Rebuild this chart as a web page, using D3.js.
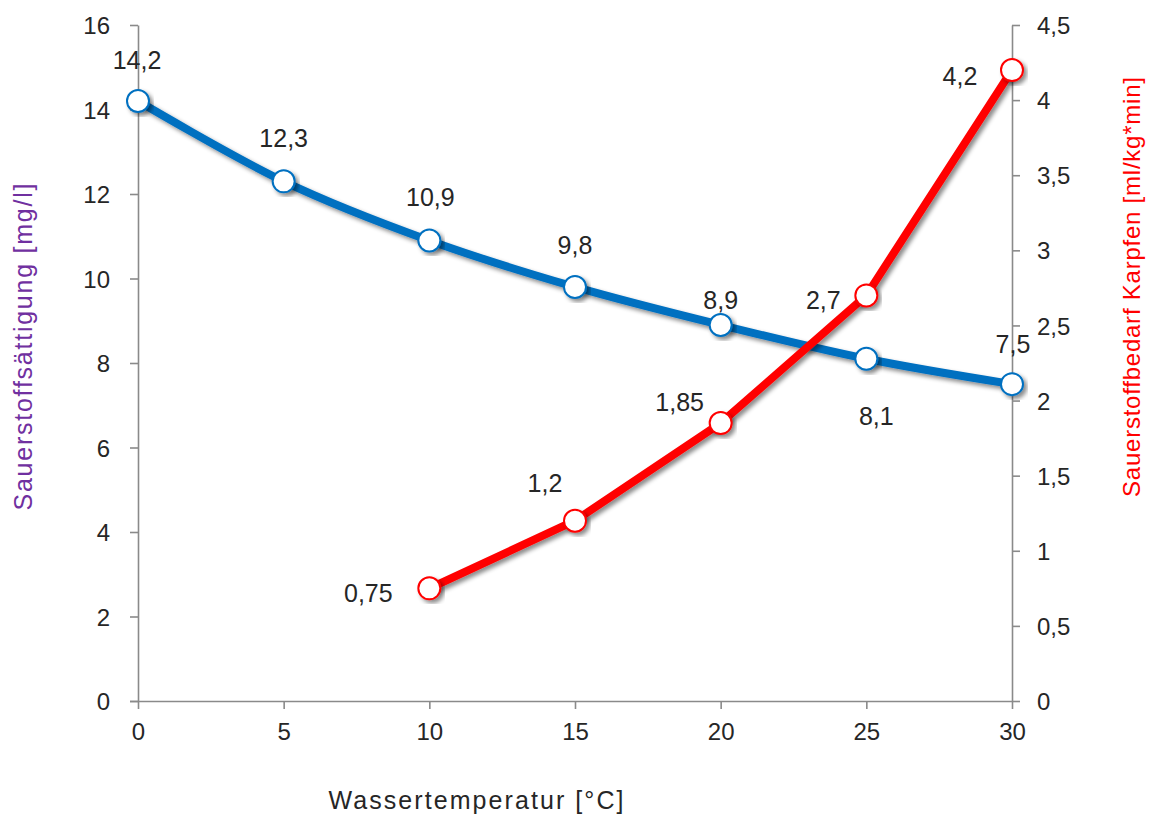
<!DOCTYPE html>
<html><head><meta charset="utf-8">
<script src="https://cdn.jsdelivr.net/npm/d3@7"></script>
<style>body{margin:0;background:#fff}svg{display:block}text{font-family:"Liberation Sans",Arial,sans-serif}</style>
</head><body><div id="chart"></div>
<script>
const temps = [0, 5, 10, 15, 20, 25, 30];
const saturation = [14.2, 12.3, 10.9, 9.8, 8.9, 8.1, 7.5];
const demandTemps = [10, 15, 20, 25, 30];
const demand = [0.75, 1.2, 1.85, 2.7, 4.2];
const satLabels = ["14,2", "12,3", "10,9", "9,8", "8,9", "8,1", "7,5"];
const demandLabels = ["0,75", "1,2", "1,85", "2,7", "4,2"];
const leftTicks = [0, 2, 4, 6, 8, 10, 12, 14, 16];
const rightTicks = [0, 0.5, 1, 1.5, 2, 2.5, 3, 3.5, 4, 4.5];
const xTicks = [0, 5, 10, 15, 20, 25, 30];
const xTitle = "Wassertemperatur  [°C]";
const leftTitle = "Sauerstoffsättigung  [mg/l]";
const rightTitle = "Sauerstoffbedarf  Karpfen  [ml/kg*min]";

// label placement offsets (px) relative to markers
const satOff = [[-1,-41],[0,-43],[1,-43],[0,-42],[0,-25],[10,57],[1,-40]];
const demOff = [[-61,5],[-30,-38],[-41,-21],[-43,5],[-52,6]];

const W = 1149, H = 816;
const svg = d3.select("#chart").append("svg").attr("width", W).attr("height", H);
const x = d3.scaleLinear().domain([0, 30]).range([138, 1012]);
const yL = d3.scaleLinear().domain([0, 16]).range([701, 25]);
const yR = d3.scaleLinear().domain([0, 4.5]).range([701, 25]);
const fmt = v => String(v).replace(".", ",");

const defs = svg.append("defs");
const f = defs.append("filter").attr("id", "sh").attr("x", "-20%").attr("y", "-20%").attr("width", "140%").attr("height", "140%");
f.append("feDropShadow").attr("dx", 3).attr("dy", 3).attr("stdDeviation", 2.2).attr("flood-color", "#000").attr("flood-opacity", 0.45);

const axisColor = "#8a8a8a";
function styleAxis(g) {
  g.select(".domain").attr("stroke", axisColor).attr("stroke-width", 1.6);
  g.selectAll(".tick line").attr("stroke", axisColor).attr("stroke-width", 1.6);
  g.selectAll(".tick text").attr("fill", "#262626").style("font-size", "24px").style("font-family", '"Liberation Sans",Arial,sans-serif');
}
const gx = svg.append("g").attr("transform", "translate(0,701)")
  .call(d3.axisBottom(x).tickValues(xTicks).tickSize(8).tickSizeOuter(0).tickPadding(14).tickFormat(fmt));
styleAxis(gx);
gx.select(".domain").attr("d", "M130,0.5H1012");
const gl = svg.append("g").attr("transform", "translate(138,0)")
  .call(d3.axisLeft(yL).tickValues(leftTicks).tickSize(8).tickSizeOuter(0).tickPadding(20).tickFormat(fmt));
styleAxis(gl);
gl.selectAll(".tick text").attr("dy", "0.36em");
const gr = svg.append("g").attr("transform", "translate(1012,0)")
  .call(d3.axisRight(yR).tickValues(rightTicks).tickSize(8).tickSizeOuter(0).tickPadding(17).tickFormat(fmt));
styleAxis(gr);
gr.selectAll(".tick text").attr("dy", "0.36em");

// titles
svg.append("text").attr("x", 476).attr("y", 809).attr("text-anchor", "middle")
  .attr("fill", "#262626").style("font-size", "25px").attr("textLength", 295).attr("lengthAdjust", "spacing").text(xTitle);
svg.append("text").attr("transform", "translate(32,347) rotate(-90)").attr("text-anchor", "middle")
  .attr("fill", "#7030A0").style("font-size", "25px").attr("textLength", 327).attr("lengthAdjust", "spacing").text(leftTitle);
svg.append("text").attr("transform", "translate(1140,287) rotate(-90)").attr("text-anchor", "middle")
  .attr("fill", "#FF0000").style("font-size", "24px").attr("textLength", 420).attr("lengthAdjust", "spacing").text(rightTitle);

// series
const blue = "#0070C0", red = "#FF0000";
const satData = temps.map((t, i) => ({t, v: saturation[i], lab: satLabels[i], off: satOff[i]}));
const demData = demandTemps.map((t, i) => ({t, v: demand[i], lab: demandLabels[i], off: demOff[i]}));

svg.append("path").datum(satData).attr("fill", "none").attr("stroke", blue).attr("stroke-width", 8)
  .attr("filter", "url(#sh)")
  .attr("d", d3.line().x(d => x(d.t)).y(d => yL(d.v)).curve(d3.curveCatmullRom.alpha(0.5)));
svg.append("path").datum(demData).attr("fill", "none").attr("stroke", red).attr("stroke-width", 8)
  .attr("stroke-linejoin", "round").attr("filter", "url(#sh)")
  .attr("d", d3.line().x(d => x(d.t)).y(d => yR(d.v)));

svg.append("g").selectAll("circle").data(satData).join("circle")
  .attr("cx", d => x(d.t)).attr("cy", d => yL(d.v)).attr("r", 11)
  .attr("fill", "#fff").attr("stroke", blue).attr("stroke-width", 2).attr("filter", "url(#sh)");
svg.append("g").selectAll("circle").data(demData).join("circle")
  .attr("cx", d => x(d.t)).attr("cy", d => yR(d.v)).attr("r", 11)
  .attr("fill", "#fff").attr("stroke", red).attr("stroke-width", 2).attr("filter", "url(#sh)");

const lab = (data, y) => svg.append("g").selectAll("text").data(data).join("text")
  .attr("x", d => x(d.t) + d.off[0]).attr("y", d => y(d.v) + d.off[1]).attr("dy", "0.36em")
  .attr("text-anchor", "middle").attr("fill", "#262626").style("font-size", "25px").text(d => d.lab);
lab(satData, yL);
lab(demData, yR);
</script></body></html>
